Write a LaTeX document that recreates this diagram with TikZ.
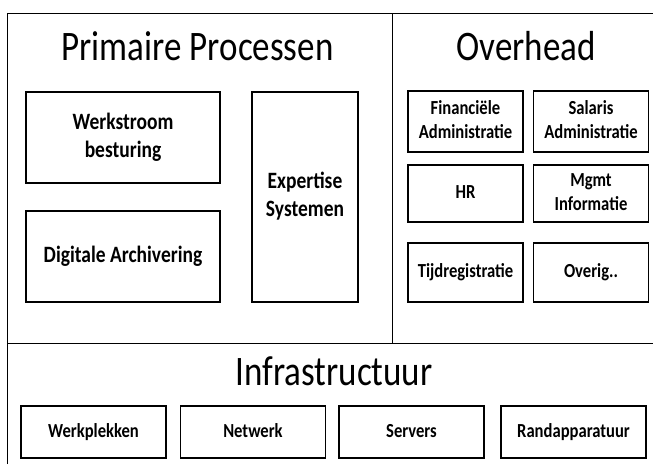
\documentclass[tikz,border=0pt]{standalone}
\usepackage{fontspec}
\setmainfont{Carlito}
\usepackage{graphicx}
\newcommand\vst[1]{\scalebox{1}[1.2]{\begin{tabular}{@{}c@{}}#1\end{tabular}}}
\begin{document}
\begin{tikzpicture}[x=1pt,y=-1pt,
  title/.style={font=\fontsize{35}{42}\selectfont, anchor=base, inner sep=0},
  bigbox/.style={draw, line width=1.2pt, inner sep=0, font=\bfseries\fontsize{19.5}{23.5}\selectfont},
  smallbox/.style={draw, line width=1.2pt, inner sep=0, font=\bfseries\fontsize{16.6}{20.8}\selectfont},
  frame/.style={line width=1pt}]
\useasboundingbox[fill=white] (0,0) rectangle (653,464);
% frame
\coordinate (bl) at (7,464);
\coordinate (tl) at (7,13);
\coordinate (tr) at (653,13);
\coordinate (ml) at (7,343);
\coordinate (mr) at (653,343);
\coordinate (vt) at (392,13);
\coordinate (vb) at (392,343);
\draw[frame] (bl) -- (tl) -- (tr);
\draw[frame] (ml) -- (mr);
\draw[frame] (vt) -- (vb);
% titles
\node[title] (tp) at (197.5,60) {\scalebox{1}[1.2]{Primaire Processen}};
\node[title] (to) at (526,60) {\scalebox{1}[1.2]{Overhead}};
\node[title] (ti) at (334,385) {\scalebox{1}[1.2]{Infrastructuur}};
% primary
\node[bigbox, minimum width=194, minimum height=91] (wb) at (123,137.5) {\vst{Werkstroom\\besturing}};
\node[bigbox, minimum width=194, minimum height=91] (da) at (123,256.5) {\vst{Digitale Archivering}};
\node[bigbox, minimum width=106, minimum height=210] (es) at (305,197) {\vst{Expertise\\Systemen}};
% overhead
\node[smallbox, minimum width=115, minimum height=61] (fa) at (465.5,121.5) {\vst{Financiële\\Administratie}};
\node[smallbox, minimum width=115, minimum height=61] (sa) at (591,121.5) {\vst{Salaris\\Administratie}};
\node[smallbox, minimum width=115, minimum height=57] (hr) at (465.5,193.5) {\vst{HR}};
\node[smallbox, minimum width=115, minimum height=57] (mi) at (591,193.5) {\vst{Mgmt\\Informatie}};
\node[smallbox, minimum width=115, minimum height=59] (tg) at (465.5,272.5) {\vst{Tijdregistratie}};
\node[smallbox, minimum width=115, minimum height=59] (ov) at (591,272.5) {\vst{Overig..}};
% infrastructure
\node[smallbox, minimum width=145, minimum height=52] (wp) at (93.5,432) {\vst{Werkplekken}};
\node[smallbox, minimum width=145, minimum height=52] (nw) at (253,432) {\vst{Netwerk}};
\node[smallbox, minimum width=145, minimum height=52] (sv) at (411.5,432) {\vst{Servers}};
\node[smallbox, minimum width=145, minimum height=52] (ra) at (573.5,432) {\vst{Randapparatuur}};
\end{tikzpicture}
\end{document}
